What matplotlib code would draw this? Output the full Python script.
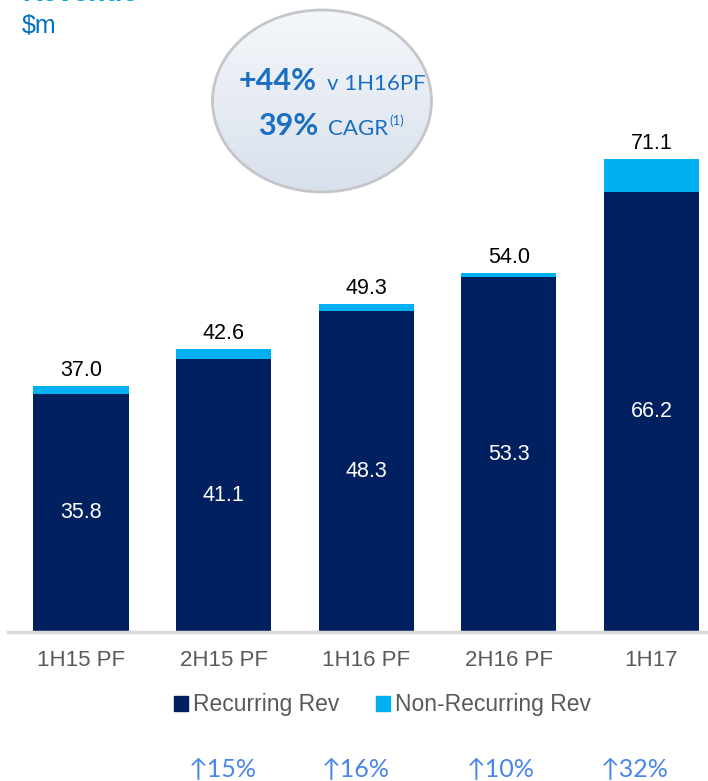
import numpy as np
import matplotlib.pyplot as plt
from matplotlib.patches import Ellipse, Patch

plt.rcParams['font.family'] = ['Liberation Sans', 'DejaVu Sans']

# Data
periods = ['1H15 PF', '2H15 PF', '1H16 PF', '2H16 PF', '1H17']
recurring = [35.8, 41.1, 48.3, 53.3, 66.2]
totals = [37.0, 42.6, 49.3, 54.0, 71.1]
non_recurring = [t - r for t, r in zip(totals, recurring)]
growth = ['15%', '16%', '10%', '32%']

navy = '#00205f'
cyan = '#00b0f0'
grey_txt = '#595959'
calibri_like = ['Lato', 'DejaVu Sans']

W, H = 708, 781
fig = plt.figure(figsize=(W / 100, H / 100), dpi=100)

# Main bar axes (positioned in pixels)
ax = fig.add_axes([8 / W, 149 / H, 700 / W, 632 / H])
ind = np.arange(len(periods))
bw = 0.667
ax.bar(ind, recurring, bw, color=navy, label='Recurring Rev')
ax.bar(ind, non_recurring, bw, bottom=recurring, color=cyan, label='Non-Recurring Rev')
ax.set_xlim(-0.512, 4.397)
ax.set_ylim(0, 95)

for i in ind:
    ax.text(i, recurring[i] / 2, '%.1f' % recurring[i], ha='center', va='center',
            color='white', fontsize=15.5)
    ax.text(i, totals[i] + 0.7, '%.1f' % totals[i], ha='center', va='bottom',
            color='black', fontsize=15.5)

for s in ['top', 'right', 'left']:
    ax.spines[s].set_visible(False)
ax.spines['bottom'].set_color('#d9d9d9')
ax.spines['bottom'].set_linewidth(2.5)
ax.set_yticks([])
ax.set_xticks(ind)
ax.set_xticklabels(periods, fontsize=16, color=grey_txt)
ax.tick_params(axis='x', length=0, pad=13)

handles = [Patch(color=navy, label='Recurring Rev'), Patch(color=cyan, label='Non-Recurring Rev')]
leg = fig.legend(handles=handles, loc='center', bbox_to_anchor=(0.54, 1 - 705 / H), ncol=2,
                 frameon=False, fontsize=16.5, handlelength=0.62, handleheight=0.62,
                 handletextpad=0.2, columnspacing=1.6)
for t in leg.get_texts():
    t.set_color(grey_txt)

# Overlay axes in pixel coords for the bubble and the side texts
ov = fig.add_axes([0, 0, 1, 1])
ov.set_xlim(0, W)
ov.set_ylim(H, 0)
ov.axis('off')

grad = np.linspace(0, 1, 256).reshape(-1, 1)
top_c = np.array([0.96, 0.97, 0.985])
bot_c = np.array([0.85, 0.88, 0.925])
img = top_c + (bot_c - top_c) * grad[:, :, None]
ell = Ellipse((322, 101), 219, 182, facecolor='none', edgecolor='#c4c6c9', lw=2)
ov.add_patch(ell)
im = ov.imshow(img, extent=(212, 432, 192, 10), aspect='auto', zorder=0)
im.set_clip_path(ell)

blue_txt = '#1a6fc0'
ov.text(317, 90, '+44%', ha='right', va='baseline', fontsize=22, fontweight='bold',
        color=blue_txt, family=calibri_like)
ov.text(327, 90, 'v 1H16PF', ha='left', va='baseline', fontsize=16,
        color=blue_txt, family=calibri_like)
ov.text(318, 135, '39%', ha='right', va='baseline', fontsize=22, fontweight='bold',
        color=blue_txt, family=calibri_like)
ov.text(328, 135, 'CAGR', ha='left', va='baseline', fontsize=16,
        color=blue_txt, family=calibri_like)
ov.text(389, 125, '(1)', ha='left', va='baseline', fontsize=9.5,
        color=blue_txt, family=calibri_like)

# Title (cut at top) and unit
ov.text(22, 1, 'Revenue', ha='left', va='baseline', fontsize=20, fontweight='bold',
        color='#00a0e3')
ov.text(22, 33, '$m', ha='left', va='baseline', fontsize=18, color='#0070c0')

# Growth arrows at the bottom
gx = [189, 322, 467, 601]
for x, g in zip(gx, growth):
    ov.text(x, 777, '\u2191' + g, ha='left', va='baseline', fontsize=18,
            color='#4a86e8', family=calibri_like)

fig.savefig('out.png', dpi=100)
